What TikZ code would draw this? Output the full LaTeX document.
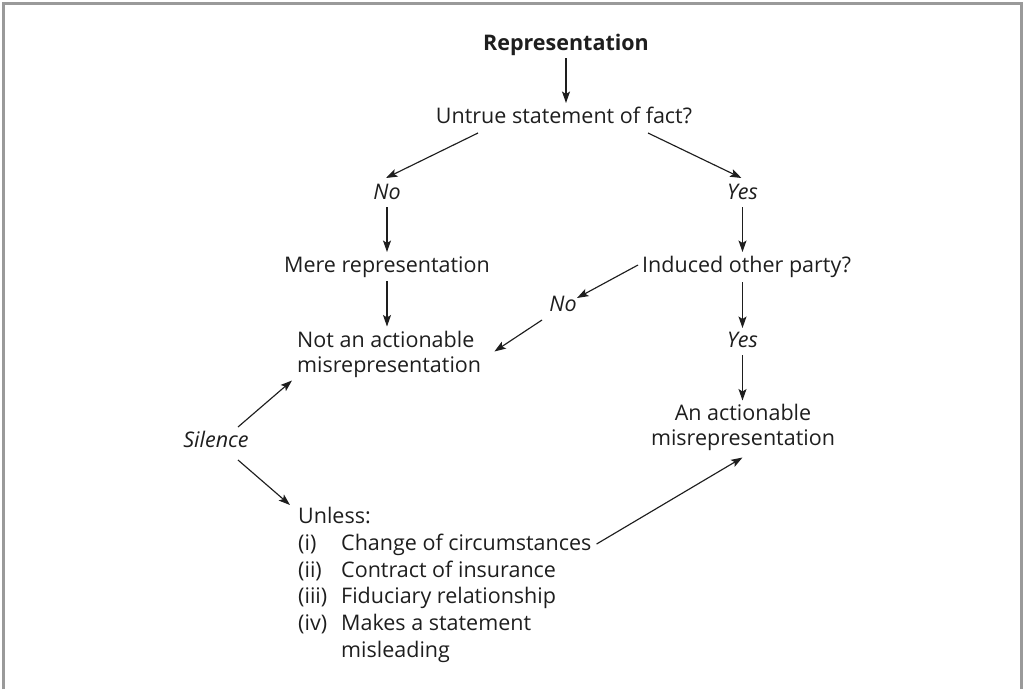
\documentclass[tikz,border=0pt]{standalone}
\usepackage{fontspec}
\setmainfont{Open Sans}
\usetikzlibrary{arrows.meta,calc}
\definecolor{framegray}{HTML}{9A9A9A}
\definecolor{ink}{HTML}{1E1E1E}
\newcommand{\dfont}{\fontsize{21.5pt}{25pt}\selectfont}
\tikzset{
  txt/.style={font=\dfont, text=ink, inner sep=0pt, text height=15pt, text depth=4pt},
  lbl/.style={txt, font=\dfont\itshape},
  twoline/.style={txt, text height=, text depth=},
  arr/.style={draw=ink, line width=1.15pt, -{Stealth[length=11.5pt,width=8pt,inset=2.5pt]}},
  frameline/.style={draw=framegray, line width=2.8pt}
}
\begin{document}
\begin{tikzpicture}[x=1pt,y=-1pt]
\useasboundingbox (0,0) rectangle (1023,689);
\draw[frameline] (3.5,689) -- (3.5,3.5) -- (1021.5,3.5) -- (1021.5,689);

\node[txt, font=\dfont\bfseries] (rep) at (566,45) {Representation};
\node[txt] (untrue) at (564,118) {Untrue statement of fact?};
\node[lbl] (no1) at (387,194) {No};
\node[lbl] (yes1) at (742.5,194) {Yes};
\node[txt] (mere) at (387,267) {Mere representation};
\node[txt, anchor=west] (induced) at (642,267) {Induced other party?};
\node[lbl] (no2) at (563,306) {No};
\node[twoline, anchor=west, align=left] (notact) at (297,354.5) {Not an actionable\\misrepresentation};
\node[lbl] (yes2) at (742.5,342) {Yes};
\node[twoline, align=center] (act) at (743,427.5) {An actionable\\misrepresentation};
\node[lbl] (silence) at (216,442) {Silence};

\node[txt, anchor=west] (unl) at (298,518) {Unless:};
\node[txt, anchor=west] (n1) at (298,545) {(i)};
\node[txt, anchor=west] (ci) at (341,545) {Change of circumstances};
\node[txt, anchor=west] (n2) at (298,571.5) {(ii)};
\node[txt, anchor=west] (cii) at (341,571.5) {Contract of insurance};
\node[txt, anchor=west] (n3) at (298,598) {(iii)};
\node[txt, anchor=west] (ciii) at (341,598) {Fiduciary relationship};
\node[txt, anchor=west] (n4) at (298,625) {(iv)};
\node[txt, anchor=west] (civ) at (341,625) {Makes a statement};
\node[txt, anchor=west] (civb) at (341,651.5) {misleading};

\draw[arr] ($(rep)+(0,13)$) -- ($(rep|-untrue)+(0,-15)$);
\draw[arr] ($(untrue)+(-86,15)$) -- ($(no1)+(-1,-16)$);
\draw[arr] ($(untrue)+(84,15)$) -- ($(yes1)+(-1,-16)$);
\draw[arr] ($(no1)+(0,13)$) -- ($(mere)+(0,-15)$);
\draw[arr] ($(yes1)+(0,13)$) -- ($(yes1|-induced)+(0,-15)$);
\draw[arr] ($(mere)+(0,14)$) -- ($(mere|-notact)+(0,-28)$);
\draw[arr] ($(induced.west)+(-4,-2)$) -- ($(no2)+(14,-8)$);
\draw[arr] ($(yes2|-induced)+(0,15)$) -- ($(yes2)+(0,-14)$);
\draw[arr] ($(no2)+(-21,14)$) -- ($(notact.east)+(13,-3)$);
\draw[arr] ($(yes2)+(0,13)$) -- ($(yes2|-act)+(0,-27)$);
\draw[arr] ($(silence)+(22,-15)$) -- ($(notact.west)+(-5,26)$);
\draw[arr] ($(silence)+(22,18)$) -- ($(unl.west)+(-8,-13)$);
\draw[arr] ($(ci.east)+(5,-1)$) -- ($(yes2|-act)+(0,30)$);
\end{tikzpicture}
\end{document}
